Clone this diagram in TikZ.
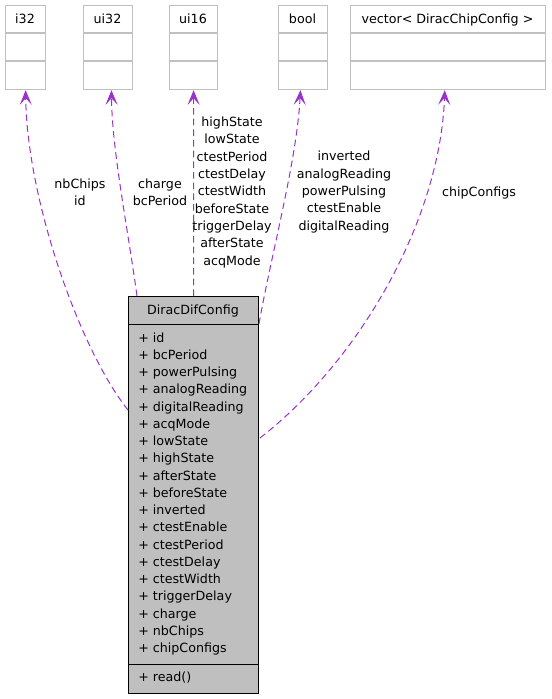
\documentclass[tikz,border=0pt]{standalone}
\usepackage{fontspec}
\setmainfont{DejaVu Sans}
\usetikzlibrary{arrows.meta,calc}
\definecolor{memberedge}{HTML}{9A32CD}
\definecolor{typeframe}{HTML}{C0C0C0}
\definecolor{classfill}{HTML}{BFBFBF}

\begin{document}
\begin{tikzpicture}[x=0.75pt, y=-0.75pt,
    font=\fontsize{9.5}{13}\selectfont,
    typebox/.style={draw=typeframe, fill=white, line width=0.9pt, inner sep=0pt, anchor=north west, minimum height=63pt},
    classbox/.style={draw=black, fill=classfill, line width=0.75pt, inner sep=0pt, anchor=north west},
    member/.style={draw=memberedge, line width=0.75pt, dash pattern=on 5pt off 3pt, -{Stealth[length=11pt, width=9pt, inset=5pt]}},
    tag/.style={align=center, inner sep=0pt}]
    \useasboundingbox (0,0) rectangle (551,699);
    \foreach \n/\xa/\xb/\t in {i32/5/45/i32, ui32/83/132/ui32, ui16/169/217/ui16, bool/278/327/bool, chips/350/545/{vector< DiracChipConfig >}}{
        \node[typebox, minimum width={(\xb-\xa)*0.75pt}] (\n) at (\xa,5) {};
        \draw[typeframe, line width=0.9pt] (\xa,33) -- (\xb,33) (\xa,61) -- (\xb,61);
        \node[anchor=base, inner sep=0pt] (\n-title) at ({(\xa+\xb)/2},23.5) {\t};
    }
    \node[classbox, minimum width=97.5pt, minimum height=297.75pt] (main) at (128,296) {};
    \draw[line width=0.75pt] (128,324) -- (258,324) (128,664) -- (258,664);
    \node[anchor=base, inner sep=0pt] (main-title) at (193,314.5) {DiracDifConfig};
    \foreach \a [count=\i from 0] in {id, bcPeriod, powerPulsing, analogReading, digitalReading, acqMode, lowState, highState, afterState, beforeState, inverted, ctestEnable, ctestPeriod, ctestDelay, ctestWidth, triggerDelay, charge, nbChips, chipConfigs}{
        \node[anchor=base west, inner sep=0pt] (attr-\a) at (138,{342+17.25*\i}) {+ \a};
    }
    \node[anchor=base west, inner sep=0pt] (read) at (138,681) {+ read()};
    \draw[member] ($(main.north west)+(0,114)$) .. controls (80,350) and (27,200) .. (i32.south);
    \draw[member] ($(main.north west)+(9,0)$) .. controls (128,230) and (112,150) .. ([xshift=2.5pt]ui32.south);
    \draw[member] (main.north) -- (ui16.south);
    \draw[member] ($(main.north east)+(0,28)$) .. controls (270,260) and (297,160) .. ([xshift=-2pt]bool.south);
    \draw[member] ($(main.north east)+(1,142)$) .. controls (360,360) and (440,220) .. ([xshift=-2.5pt]chips.south);
    \node[tag] (lbl-i32) at (80,192.5) {nbChips\\id};
    \node[tag] (lbl-ui32) at (160,192.5) {charge\\bcPeriod};
    \node[tag] (lbl-ui16) at (232,192.5) {highState\\lowState\\ctestPeriod\\ctestDelay\\ctestWidth\\beforeState\\triggerDelay\\afterState\\acqMode};
    \node[tag] (lbl-bool) at (344,192) {inverted\\analogReading\\powerPulsing\\ctestEnable\\digitalReading};
    \node[tag] (lbl-chips) at (479,193) {chipConfigs};
\end{tikzpicture}
\end{document}
